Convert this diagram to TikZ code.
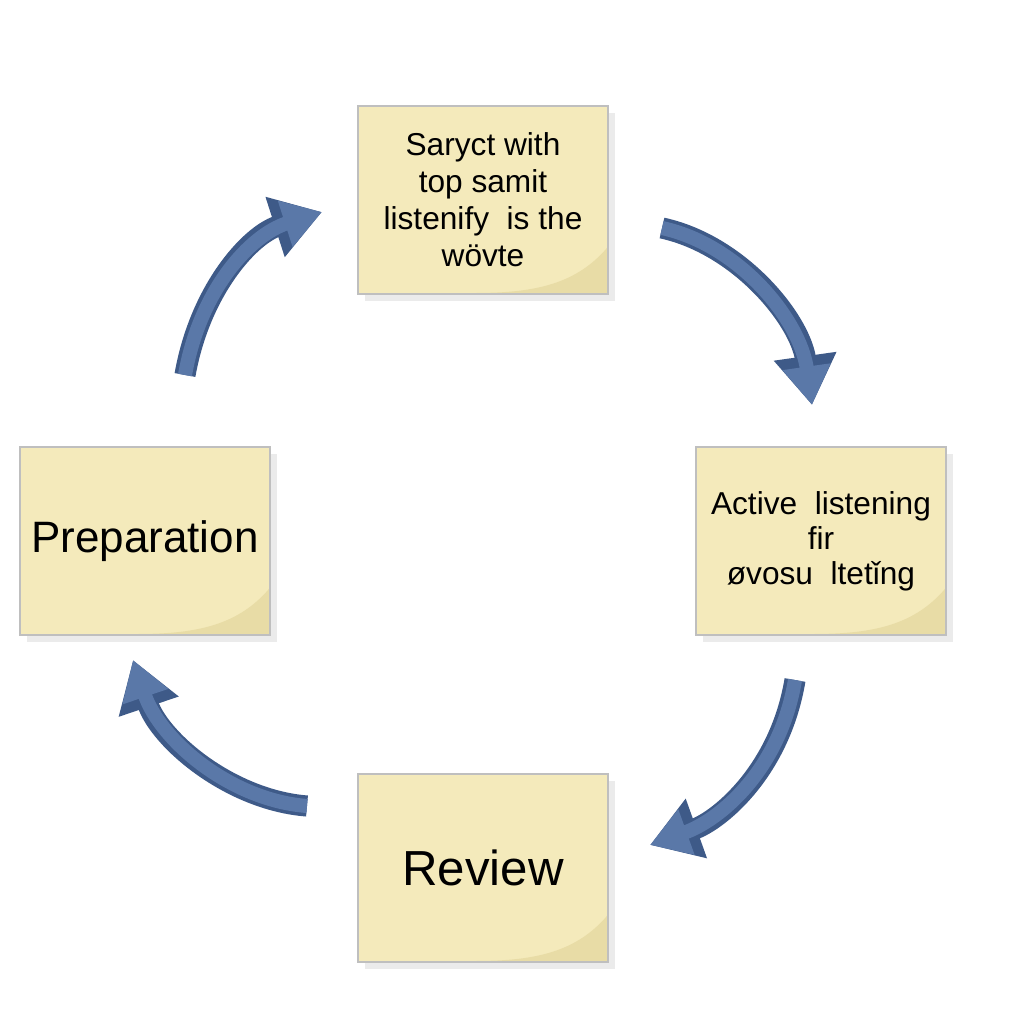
\documentclass[tikz,border=0pt]{standalone}
\usepackage{fontspec}
\setmainfont{Liberation Sans}
\usetikzlibrary{arrows.meta,shadows}
\definecolor{note}{HTML}{F4EABB}
\definecolor{curl}{HTML}{E8DCA6}
\definecolor{arr}{HTML}{5A78A8}
\definecolor{arrd}{HTML}{3E5A88}
\tikzset{
 notebox/.style={draw=gray!50,fill=note,minimum width=250*0.01cm,minimum height=188*0.01cm,inner sep=0pt,
   drop shadow={shadow xshift=2pt,shadow yshift=-2pt,fill=black!15}},
 flow/.style={arrd,line width=6pt,-{Triangle[width=17pt,length=14pt]},
   postaction={draw=arr,line width=4pt,-{Triangle[width=13pt,length=11pt]}}},
}
\newcommand{\curlat}[1]{\fill[curl] ([xshift=-0.5pt,yshift=0.5pt]#1.south east) -- ++(0,-45) .. controls ++(-30,35) and ++(60,0) .. ++(-130,45) -- cycle;}
\begin{document}
\begin{tikzpicture}[x=0.01cm,y=-0.01cm]
\fill[white] (0,0) rectangle (1024,1024);
\node[notebox] (top) at (483,200) {};
\node[notebox] (right) at (821,541) {};
\node[notebox] (bottom) at (483,868) {};
\node[notebox] (left) at (145,541) {};
\curlat{top}\curlat{right}\curlat{bottom}\curlat{left}
\node[font=\fontsize{9}{10.5}\selectfont,align=center] at (top) {Sarуct with\\top samit\\listenify\ \ is the\\wövte};
\node[font=\fontsize{9}{10}\selectfont,align=center] at (right) {Active\ \ listening\\fir\\øvosu\ \ ltetǐng};
\node[font=\fontsize{14}{16}\selectfont] at (bottom) {Review};
\node[font=\fontsize{12.5}{15}\selectfont] at (left) {Preparation};
\coordinate (a1) at (185,375); \coordinate (b1) at (322,212);
\coordinate (a2) at (662,228); \coordinate (b2) at (812,405);
\coordinate (a3) at (795,680); \coordinate (b3) at (650,845);
\coordinate (a4) at (307,806); \coordinate (b4) at (133,660);
\draw[flow] (a1) .. controls (200,290) and (250,235) .. (b1);
\draw[flow] (a2) .. controls (740,245) and (800,320) .. (b2);
\draw[flow] (a3) .. controls (780,770) and (720,820) .. (b3);
\draw[flow] (a4) .. controls (230,800) and (160,740) .. (b4);
\end{tikzpicture}
\end{document}
